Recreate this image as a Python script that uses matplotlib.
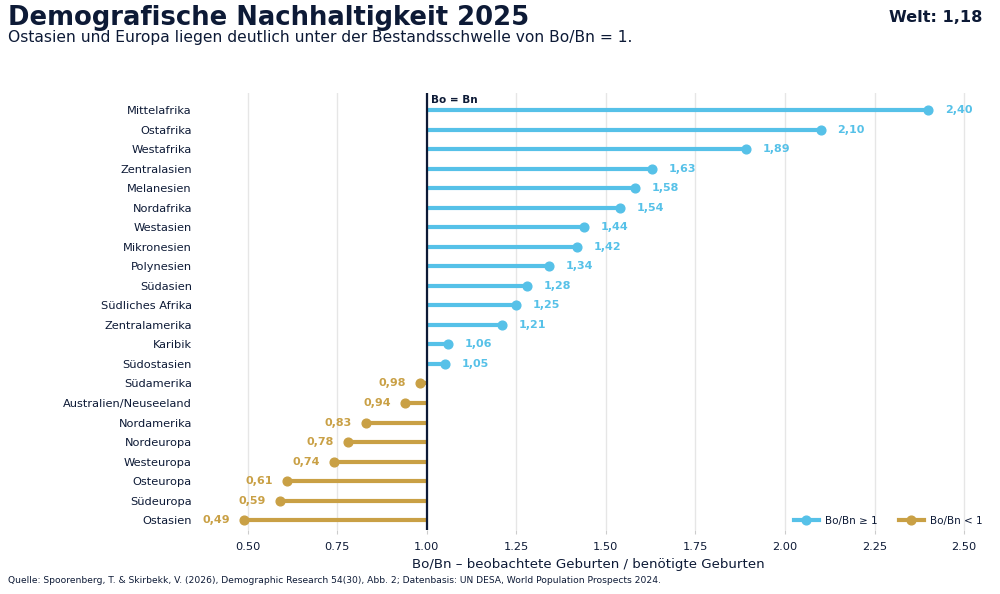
import numpy as np
import matplotlib.pyplot as plt
from matplotlib.lines import Line2D

## Daten (Bo/Bn je Region, 2025)
regionen = ['Mittelafrika', 'Ostafrika', 'Westafrika', 'Zentralasien', 'Melanesien',
            'Nordafrika', 'Westasien', 'Mikronesien', 'Polynesien', 'Südasien',
            'Südliches Afrika', 'Zentralamerika', 'Karibik', 'Südostasien',
            'Südamerika', 'Australien/Neuseeland', 'Nordamerika', 'Nordeuropa',
            'Westeuropa', 'Osteuropa', 'Südeuropa', 'Ostasien']
bobn = [2.40, 2.10, 1.89, 1.63, 1.58, 1.54, 1.44, 1.42, 1.34, 1.28, 1.25, 1.21,
        1.06, 1.05, 0.98, 0.94, 0.83, 0.78, 0.74, 0.61, 0.59, 0.49]
welt = 1.18
xticks = [0.50, 0.75, 1.00, 1.25, 1.50, 1.75, 2.00, 2.25, 2.50]

blau = '#56c1e8'
gold = '#c9a045'
navy = '#0d1a36'

fig = plt.figure(figsize=(10, 5.94), dpi=100)
ax = fig.add_axes([0.194, 0.108, 0.788, 0.735])

y = np.arange(len(regionen))
for i, v in enumerate(bobn):
    c = blau if v >= 1 else gold
    ax.plot([1.0, v], [i, i], color=c, lw=3.0, solid_capstyle='butt', zorder=2)
    ax.plot(v, i, 'o', color=c, ms=6.3, zorder=3)
    txt = f'{v:.2f}'.replace('.', ',')
    if v >= 1:
        ax.annotate(txt, (v, i), xytext=(12, 0), textcoords='offset points',
                    ha='left', va='center', color=c, fontsize=8, fontweight='bold')
    else:
        ax.annotate(txt, (v, i), xytext=(-10, 0), textcoords='offset points',
                    ha='right', va='center', color=c, fontsize=8, fontweight='bold')

ax.axvline(1.0, color=navy, lw=1.6, zorder=4)
ax.text(1.012, -0.5, 'Bo = Bn', fontsize=7.5, fontweight='bold', color=navy,
        ha='left', va='center')

ax.set_xlim(0.35, 2.55)
ax.set_ylim(len(regionen) - 0.5, -0.87)
ax.set_yticks(y)
ax.set_yticklabels(regionen, fontsize=8.2, color=navy)
ax.set_xticks(xticks)
ax.set_xticklabels([f'{t:.2f}' for t in xticks], fontsize=8.2, color=navy)
ax.tick_params(axis='y', length=0, pad=1.5)
ax.tick_params(axis='x', length=3, color='#cccccc', pad=6)
ax.grid(axis='x', color='#e6e6e6', lw=1, zorder=0)
ax.set_axisbelow(True)
for s in ax.spines.values():
    s.set_visible(False)
ax.set_xlabel('Bo/Bn – beobachtete Geburten / benötigte Geburten', fontsize=9.6,
              color=navy, labelpad=4)

handles = [Line2D([0], [0], color=blau, lw=3.0, marker='o', ms=6.3),
           Line2D([0], [0], color=gold, lw=3.0, marker='o', ms=6.3)]
ax.legend(handles, ['Bo/Bn ≥ 1', 'Bo/Bn < 1'], loc='lower right',
          bbox_to_anchor=(1.006, 0.0), ncol=2,
          frameon=False, fontsize=7.5, handlelength=2.4, handletextpad=0.6,
          columnspacing=2.0, borderaxespad=0.1, borderpad=0.3, labelcolor=navy)

fig.text(0.008, 0.97, 'Demografische Nachhaltigkeit 2025', fontsize=18.6,
         fontweight='bold', color=navy, ha='left', va='center')
fig.text(0.008, 0.937, 'Ostasien und Europa liegen deutlich unter der Bestandsschwelle von Bo/Bn = 1.',
         fontsize=11.2, color=navy, ha='left', va='center')
fig.text(0.982, 0.97, f'Welt: {welt:.2f}'.replace('.', ','), fontsize=11.6,
         fontweight='bold', color=navy, ha='right', va='center')
fig.text(0.008, 0.022, 'Quelle: Spoorenberg, T. & Skirbekk, V. (2026), Demographic Research 54(30), Abb. 2; '
         'Datenbasis: UN DESA, World Population Prospects 2024.',
         fontsize=6.55, color=navy, ha='left', va='center')

fig.savefig('out.png', dpi=100)
